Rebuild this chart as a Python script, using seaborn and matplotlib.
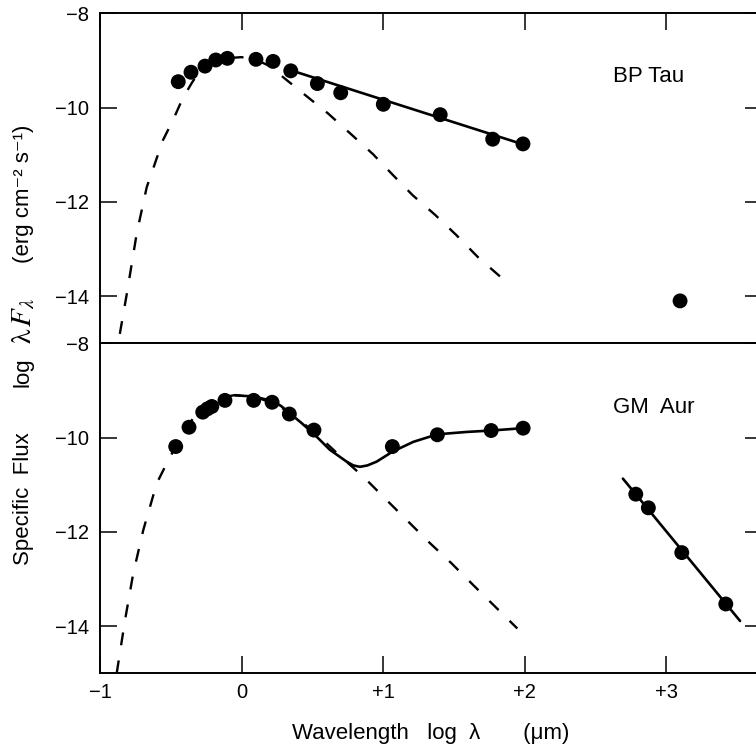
import matplotlib
matplotlib.use("Agg")
import matplotlib.pyplot as plt
import seaborn as sns

# BP Tau photometry (log lambda in um, log lambda F_lambda)
bp_x = [-0.447, -0.357, -0.258, -0.182, -0.100, 0.102, 0.223, 0.348, 0.536,
        0.701, 1.002, 1.404, 1.775, 1.989, 3.099]
bp_y = [-9.45, -9.25, -9.12, -8.99, -8.955, -8.976, -9.02, -9.22, -9.49,
        -9.685, -9.93, -10.15, -10.67, -10.77, -14.10]
bp_fit_x = [0.35, 1.99]
bp_fit_y = [-9.21, -10.78]
bp_star_x = [-0.86, -0.81, -0.74, -0.67, -0.555, -0.485, -0.415, -0.35, -0.29,
             -0.2, -0.1, 0.0, 0.1, 0.2, 0.28, 0.44, 0.61, 0.78, 0.93, 1.07,
             1.21, 1.37, 1.52, 1.67, 1.83, 1.87]
bp_star_y = [-14.8, -13.94, -12.66, -11.69, -10.69, -10.27, -9.80, -9.47, -9.20,
             -9.03, -8.95, -8.93, -8.98, -9.12, -9.32, -9.71, -10.12, -10.58,
             -10.99, -11.43, -11.86, -12.28, -12.71, -13.17, -13.59, -13.72]

# GM Aur photometry
gm_x = [-0.465, -0.371, -0.274, -0.241, -0.210, -0.117, 0.086, 0.216, 0.338,
        0.512, 1.066, 1.384, 1.764, 1.990, 2.786, 2.875, 3.111, 3.422]
gm_y = [-10.19, -9.78, -9.46, -9.39, -9.34, -9.21, -9.21, -9.25, -9.50,
        -9.84, -10.19, -9.94, -9.85, -9.80, -11.20, -11.49, -12.44, -13.53]
gm_fit_x = [-0.046, 0.086, 0.216, 0.28, 0.343, 0.42, 0.507, 0.625, 0.743, 0.79,
            0.837, 0.89, 0.955, 1.066, 1.214, 1.384, 1.591, 1.763, 1.989]
gm_fit_y = [-9.10, -9.13, -9.22, -9.33, -9.49, -9.68, -9.91, -10.26, -10.51,
            -10.59, -10.62, -10.59, -10.51, -10.30, -10.09, -9.93, -9.88, -9.85, -9.80]
gm_mm_x = [2.695, 3.523]
gm_mm_y = [-10.87, -13.89]
gm_star_x = [-0.882, -0.823, -0.765, -0.694, -0.599, -0.529, -0.411, -0.317,
             -0.175, -0.05, 0.1, 0.25, 0.4, 0.55, 0.7, 0.861, 1.037, 1.191,
             1.332, 1.485, 1.638, 1.78, 1.949]
gm_star_y = [-15.0, -13.87, -12.88, -11.96, -10.97, -10.55, -9.88, -9.49,
             -9.17, -9.10, -9.14, -9.30, -9.60, -9.98, -10.40, -10.83, -11.36,
             -11.82, -12.24, -12.67, -13.13, -13.55, -14.05]

x_ticks = [-1, 0, 1, 2, 3]
x_labels = ["\u22121", "0", "+1", "+2", "+3"]
y_ticks = [-14, -12, -10, -8]
y_labels = ["\u221214", "\u221212", "\u221210", "\u22128"]

sns.set_style("ticks")
plt.rcParams['font.family'] = ['Liberation Sans', 'DejaVu Sans']
plt.rcParams['mathtext.fontset'] = 'stix'
for k in ['text.color', 'axes.labelcolor', 'xtick.color', 'ytick.color', 'axes.edgecolor']:
    plt.rcParams[k] = 'black'

fig = plt.figure(figsize=(7.56, 7.48), dpi=100)
left, width = 100 / 756, 662 / 756
ax1 = fig.add_axes([left, 0.5410, width, 0.4412])
ax2 = fig.add_axes([left, 0.0999, width, 0.4411])

dash = (0, (5.5, 6.5))
for ax, (px, py), fits, (sx, sy) in [
        (ax1, (bp_x, bp_y), [(bp_fit_x, bp_fit_y)], (bp_star_x, bp_star_y)),
        (ax2, (gm_x, gm_y), [(gm_fit_x, gm_fit_y), (gm_mm_x, gm_mm_y)], (gm_star_x, gm_star_y))]:
    sns.lineplot(x=sx, y=sy, ax=ax, color='black', lw=1.7, linestyle=dash,
                 estimator=None, sort=False)
    for fx, fy in fits:
        sns.lineplot(x=fx, y=fy, ax=ax, color='black', lw=1.9,
                     estimator=None, sort=False)
    sns.scatterplot(x=px, y=py, ax=ax, color='black', s=115, edgecolor='none',
                    zorder=3, clip_on=False)
    ax.set_xlim(-1, 3.678)
    ax.set_ylim(-15, -8)
    ax.set_yticks(y_ticks)
    ax.set_yticklabels(y_labels)
    ax.set_xticks(x_ticks)
    ax.spines['right'].set_visible(False)
    for s in ['left', 'top', 'bottom']:
        ax.spines[s].set_linewidth(1.4)
    ax.tick_params(direction='in', length=12, width=1.1, labelsize=14.5,
                   right=True, pad=8)
    ax.set_xlabel("")
    ax.set_ylabel("")

ax1.tick_params(axis='x', top=True, bottom=False, labelbottom=False)
ax2.tick_params(axis='x', top=False, bottom=True, pad=7)
ax2.set_xticklabels(x_labels)

ax1.text(2.625, -9.33, "BP Tau", fontsize=16, ha='left', va='center')
ax2.text(2.625, -9.37, "GM  Aur", fontsize=16, ha='left', va='center')

ax2.set_xlabel("Wavelength   log  \u03bb       (\u03bcm)", fontsize=16)
ax2.xaxis.set_label_coords(0.5, -0.15)
ax2.xaxis.label.set_va('top')

fig.text(0.031, 0.3336, "Specific  Flux", rotation=90, fontsize=16,
         ha='center', va='center')
fig.text(0.031, 0.5027, "log", rotation=90, fontsize=16,
         ha='center', va='center')
fig.text(0.031, 0.5715, r"$\mathrm{\lambda}\,F_{\lambda}$", rotation=90,
         fontsize=21, ha='center', va='center')
fig.text(0.031, 0.7406, "(erg cm\u207b\u00b2 s\u207b\u00b9)", rotation=90,
         fontsize=16, ha='center', va='center')

fig.savefig("out.png", dpi=100)
